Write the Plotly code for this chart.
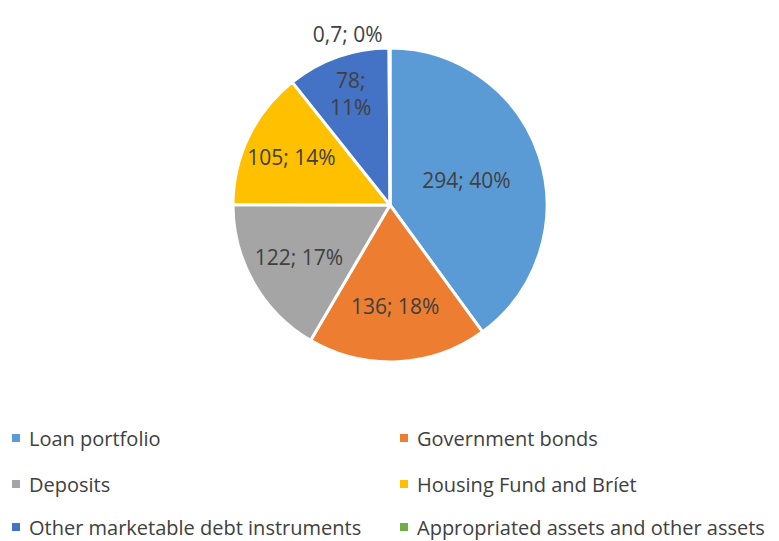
import plotly.graph_objects as go

categories = ["Loan portfolio", "Government bonds", "Deposits",
              "Housing Fund and Bríet", "Other marketable debt instruments",
              "Appropriated assets and other assets"]
values = [294, 136, 122, 105, 78, 0.7]
value_labels = ["294", "136", "122", "105", "78", "0,7"]
pct_labels = ["40%", "18%", "17%", "14%", "11%", "0%"]
colors = ["#5B9BD5", "#ED7D31", "#A5A5A5", "#FFC000", "#4472C4", "#70AD47"]

W, H = 779, 541
FONT = "'Open Sans', sans-serif"
TXT = "#404040"

texts = []
for v, p in zip(value_labels, pct_labels):
    sep = ";<br>" if v == "78" else "; "
    texts.append(f"{v}{sep}{p}")

cx, cy, r = 390, 205, 157
fig = go.Figure(go.Pie(
    labels=categories, values=values, text=texts, textinfo="text",
    sort=False, direction="clockwise", rotation=0,
    marker=dict(colors=colors, line=dict(color="white", width=3)),
    textposition=["inside"] * 5 + ["outside"],
    insidetextorientation="horizontal",
    textfont=dict(family=FONT, size=21, color=TXT),
    outsidetextfont=dict(family=FONT, size=21, color=TXT),
    domain=dict(x=[(cx - r) / W, (cx + r) / W], y=[1 - (cy + r) / H, 1 - (cy - r) / H]),
    showlegend=False, hoverinfo="label+value+percent",
))

# manual legend
cols_x = [12, 400]
rows_y = [438, 484, 527]
for i, (cat, col) in enumerate(zip(categories, colors)):
    x = cols_x[i % 2]
    y = rows_y[i // 2]
    fig.add_shape(type="rect", xref="paper", yref="paper",
                  x0=x / W, x1=(x + 8) / W, y0=1 - (y + 4) / H, y1=1 - (y - 4) / H,
                  fillcolor=col, line=dict(width=0))
    fig.add_annotation(xref="paper", yref="paper", x=(x + 15) / W, y=1 - y / H,
                       text=cat, showarrow=False, xanchor="left", yanchor="middle",
                       font=dict(family=FONT, size=20, color=TXT))

fig.update_layout(width=W, height=H, margin=dict(l=0, r=0, t=0, b=0),
                  paper_bgcolor="white", plot_bgcolor="white")
fig.write_html("out.html")
